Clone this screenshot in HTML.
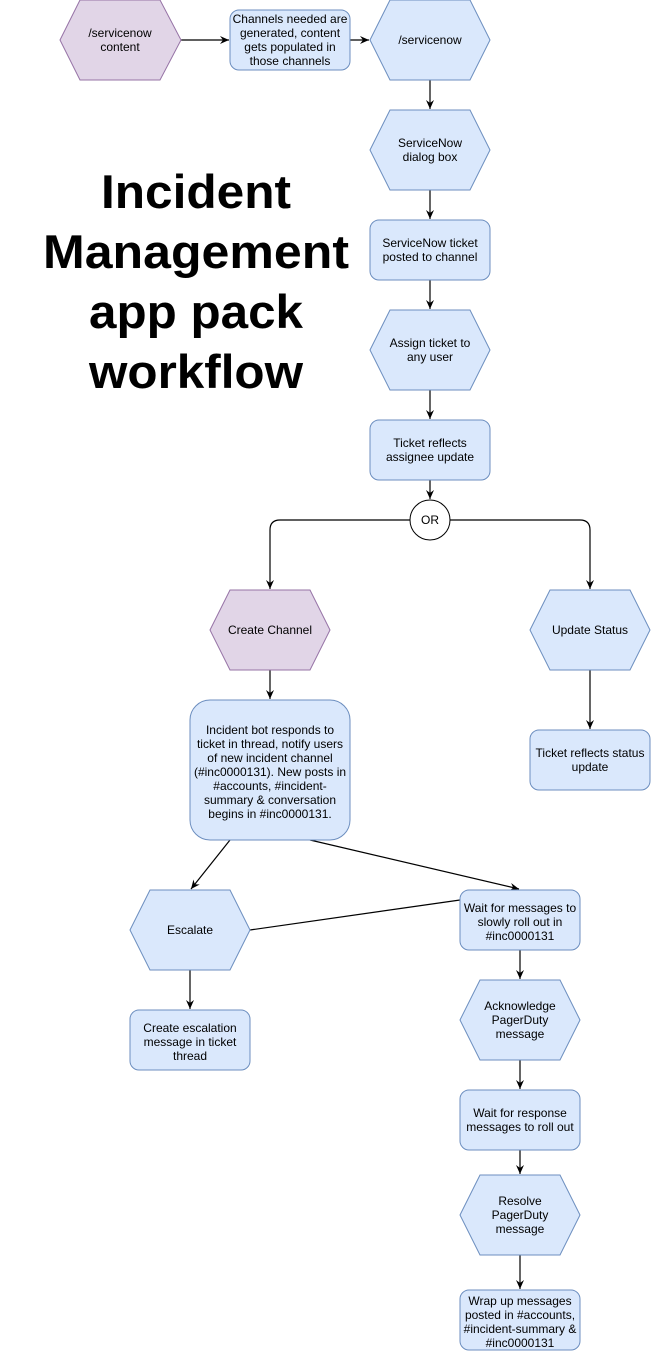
<!DOCTYPE html>
<html><head><meta charset="utf-8"><style>
html,body{margin:0;padding:0;background:#fff;}
svg{display:block;}
text{font-family:"Liberation Sans",Arial,sans-serif;}
</style></head><body>
<svg width="651" height="1351" viewBox="0 0 651 1351" xmlns="http://www.w3.org/2000/svg">
<defs>
<marker id="a" markerWidth="10" markerHeight="10" refX="9" refY="5" orient="auto" markerUnits="userSpaceOnUse">
<path d="M0,1 L9,5 L0,9 L3,5 Z" fill="#000"/>
</marker>
</defs>
<g fill="none" stroke="#000" stroke-width="1.2">
<line x1="181" y1="40" x2="229" y2="40" marker-end="url(#a)"/>
<line x1="350" y1="40" x2="369" y2="40" marker-end="url(#a)"/>
<line x1="430" y1="80" x2="430" y2="109" marker-end="url(#a)"/>
<line x1="430" y1="190" x2="430" y2="219" marker-end="url(#a)"/>
<line x1="430" y1="280" x2="430" y2="309" marker-end="url(#a)"/>
<line x1="430" y1="390" x2="430" y2="419" marker-end="url(#a)"/>
<line x1="430" y1="480" x2="430" y2="499" marker-end="url(#a)"/>
<path d="M410,520 H280 Q270,520 270,530 V589" marker-end="url(#a)"/>
<path d="M450,520 H580 Q590,520 590,530 V589" marker-end="url(#a)"/>
<line x1="270" y1="670" x2="270" y2="699" marker-end="url(#a)"/>
<line x1="590" y1="670" x2="590" y2="729" marker-end="url(#a)"/>
<line x1="230" y1="840" x2="191" y2="889" marker-end="url(#a)"/>
<line x1="310" y1="840" x2="519" y2="889" marker-end="url(#a)"/>
<line x1="250" y1="930" x2="460" y2="900"/>
<line x1="190" y1="970" x2="190" y2="1009" marker-end="url(#a)"/>
<line x1="520" y1="950" x2="520" y2="979" marker-end="url(#a)"/>
<line x1="520" y1="1060" x2="520" y2="1089" marker-end="url(#a)"/>
<line x1="520" y1="1150" x2="520" y2="1174" marker-end="url(#a)"/>
<line x1="520" y1="1255" x2="520" y2="1289" marker-end="url(#a)"/>
</g>
<g stroke-width="1">
<polygon points="60,40 80,0 160,0 181,40 160,80 80,80" fill="#e1d5e7" stroke="#9673a6"/>
<rect x="230" y="10" width="120" height="60" rx="9" fill="#dae8fc" stroke="#6c8ebf"/>
<polygon points="370,40 390,0 470,0 490,40 470,80 390,80" fill="#dae8fc" stroke="#6c8ebf"/>
<polygon points="370,150 390,110 470,110 490,150 470,190 390,190" fill="#dae8fc" stroke="#6c8ebf"/>
<rect x="370" y="220" width="120" height="60" rx="9" fill="#dae8fc" stroke="#6c8ebf"/>
<polygon points="370,350 390,310 470,310 490,350 470,390 390,390" fill="#dae8fc" stroke="#6c8ebf"/>
<rect x="370" y="420" width="120" height="60" rx="9" fill="#dae8fc" stroke="#6c8ebf"/>
<circle cx="430" cy="520" r="20" fill="#fff" stroke="#000"/>
<polygon points="210,630 230,590 310,590 330,630 310,670 230,670" fill="#e1d5e7" stroke="#9673a6"/>
<polygon points="530,630 550,590 630,590 650,630 630,670 550,670" fill="#dae8fc" stroke="#6c8ebf"/>
<rect x="190" y="700" width="160" height="140" rx="20" fill="#dae8fc" stroke="#6c8ebf"/>
<rect x="530" y="730" width="120" height="60" rx="9" fill="#dae8fc" stroke="#6c8ebf"/>
<polygon points="130,930 150,890 230,890 250,930 230,970 150,970" fill="#dae8fc" stroke="#6c8ebf"/>
<rect x="460" y="890" width="120" height="60" rx="9" fill="#dae8fc" stroke="#6c8ebf"/>
<rect x="130" y="1010" width="120" height="60" rx="9" fill="#dae8fc" stroke="#6c8ebf"/>
<polygon points="460,1020 480,980 560,980 580,1020 560,1060 480,1060" fill="#dae8fc" stroke="#6c8ebf"/>
<rect x="460" y="1090" width="120" height="60" rx="9" fill="#dae8fc" stroke="#6c8ebf"/>
<polygon points="460,1215 480,1175 560,1175 580,1215 560,1255 480,1255" fill="#dae8fc" stroke="#6c8ebf"/>
<rect x="460" y="1290" width="120" height="60" rx="9" fill="#dae8fc" stroke="#6c8ebf"/>
</g>
<g font-size="12" text-anchor="middle" fill="#000">
<text x="120" y="37">/servicenow</text><text x="120" y="51">content</text>
<text x="290" y="23">Channels needed are</text><text x="290" y="37">generated, content</text><text x="290" y="51">gets populated in</text><text x="290" y="65">those channels</text>
<text x="430" y="44">/servicenow</text>
<text x="430" y="147">ServiceNow</text><text x="430" y="161">dialog box</text>
<text x="430" y="247">ServiceNow ticket</text><text x="430" y="261">posted to channel</text>
<text x="430" y="347">Assign ticket to</text><text x="430" y="361">any user</text>
<text x="430" y="447">Ticket reflects</text><text x="430" y="461">assignee update</text>
<text x="430" y="524">OR</text>
<text x="270" y="634">Create Channel</text>
<text x="590" y="634">Update Status</text>
<text x="270" y="734">Incident bot responds to</text><text x="270" y="748">ticket in thread, notify users</text><text x="270" y="762">of new incident channel</text><text x="270" y="776">(#inc0000131). New posts in</text><text x="270" y="790">#accounts, #incident-</text><text x="270" y="804">summary &amp; conversation</text><text x="270" y="818">begins in #inc0000131.</text>
<text x="590" y="757">Ticket reflects status</text><text x="590" y="771">update</text>
<text x="190" y="934">Escalate</text>
<text x="520" y="912">Wait for messages to</text><text x="520" y="926">slowly roll out in</text><text x="520" y="940">#inc0000131</text>
<text x="190" y="1032">Create escalation</text><text x="190" y="1046">message in ticket</text><text x="190" y="1060">thread</text>
<text x="520" y="1010">Acknowledge</text><text x="520" y="1024">PagerDuty</text><text x="520" y="1038">message</text>
<text x="520" y="1117">Wait for response</text><text x="520" y="1131">messages to roll out</text>
<text x="520" y="1205">Resolve</text><text x="520" y="1219">PagerDuty</text><text x="520" y="1233">message</text>
<text x="520" y="1305">Wrap up messages</text><text x="520" y="1319">posted in #accounts,</text><text x="520" y="1333">#incident-summary &amp;</text><text x="520" y="1347">#inc0000131</text>
</g>
<g font-size="47" font-weight="bold" text-anchor="middle" fill="#000">
<text x="196" y="208" textLength="190" lengthAdjust="spacingAndGlyphs">Incident</text>
<text x="196" y="268" textLength="306" lengthAdjust="spacingAndGlyphs">Management</text>
<text x="196" y="328" textLength="214" lengthAdjust="spacingAndGlyphs">app pack</text>
<text x="196" y="388" textLength="214" lengthAdjust="spacingAndGlyphs">workflow</text>
</g>
</svg>
</body></html>
